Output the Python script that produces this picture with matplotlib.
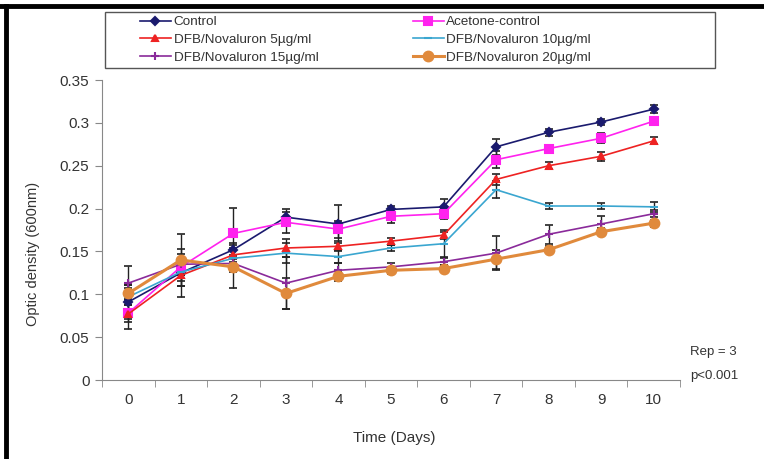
import matplotlib
matplotlib.use("Agg")
import matplotlib.pyplot as plt
from matplotlib.lines import Line2D
from matplotlib.patches import Rectangle
import numpy as np

plt.rcParams['font.family'] = ['Liberation Sans', 'DejaVu Sans']

# dados
days = [0, 1, 2, 3, 4, 5, 6, 7, 8, 9, 10]
control = [0.091, 0.125, 0.152, 0.190, 0.182, 0.199, 0.202, 0.272, 0.289, 0.301, 0.316]
acetone = [0.078, 0.132, 0.171, 0.184, 0.176, 0.191, 0.194, 0.257, 0.270, 0.282, 0.302]
dfb5 = [0.077, 0.122, 0.146, 0.154, 0.156, 0.162, 0.169, 0.234, 0.250, 0.261, 0.279]
dfb10 = [0.097, 0.126, 0.142, 0.148, 0.144, 0.154, 0.159, 0.222, 0.203, 0.203, 0.202]
dfb15 = [0.113, 0.135, 0.136, 0.113, 0.128, 0.132, 0.138, 0.148, 0.170, 0.182, 0.194]
dfb20 = [0.101, 0.140, 0.132, 0.101, 0.121, 0.128, 0.130, 0.141, 0.152, 0.173, 0.183]

# desvios (barras de erro)
err_control = [0.020, 0.028, 0.008, 0.010, 0.022, 0.004, 0.009, 0.009, 0.004, 0.003, 0.005]
err_acetone = [0.010, 0.010, 0.030, 0.012, 0.010, 0.008, 0.006, 0.010, 0.004, 0.006, 0.004]
err_dfb5 = [0.017, 0.012, 0.008, 0.010, 0.006, 0.004, 0.004, 0.006, 0.004, 0.005, 0.004]
err_dfb10 = [0.010, 0.010, 0.010, 0.012, 0.008, 0.004, 0.016, 0.010, 0.003, 0.003, 0.006]
err_dfb15 = [0.020, 0.012, 0.010, 0.030, 0.008, 0.004, 0.004, 0.020, 0.011, 0.009, 0.004]
err_dfb20 = [0.010, 0.030, 0.025, 0.018, 0.006, 0.004, 0.004, 0.011, 0.004, 0.004, 0.004]

labels = ['Control', 'Acetone-control', 'DFB/Novaluron 5\u00b5g/ml',
          'DFB/Novaluron 10\u00b5g/ml', 'DFB/Novaluron 15\u00b5g/ml', 'DFB/Novaluron 20\u00b5g/ml']

fig = plt.figure(figsize=(7.64, 4.59), dpi=100)
ax = fig.add_axes([102/764, 1-380/459, (680-102)/764, 300/459])

series = [
    (control, err_control, '#1a1a6e', 'D', 4, 1.2),
    (acetone, err_acetone, '#ff22ee', 's', 6, 1.2),
    (dfb5, err_dfb5, '#ee2222', '^', 5, 1.2),
    (dfb10, err_dfb10, '#3aa6d0', '_', 6, 1.2),
    (dfb15, err_dfb15, '#8a2a9a', '+', 6, 1.2),
    (dfb20, err_dfb20, '#e08a3c', 'o', 7, 2.2),
]

handles = {}
for (vals, err, col, mk, ms, lw), lab in zip(series, labels):
    ax.errorbar(days, vals, yerr=err, fmt='none', ecolor='#222222',
                elinewidth=1.0, capsize=3, capthick=1.2, zorder=2)
    h, = ax.plot(days, vals, color=col, marker=mk, markersize=ms, lw=lw,
                 markeredgecolor=col, markeredgewidth=1.5, zorder=3, label=lab)
    handles[lab] = h

ax.set_xlim(-0.5, 10.5)
ax.set_ylim(0, 0.35)
ax.set_yticks(np.arange(0, 0.36, 0.05))
ax.set_yticklabels(['0', '0.05', '0.1', '0.15', '0.2', '0.25', '0.3', '0.35'])
ax.set_xticks(days)
ax.set_xticks(np.arange(-0.5, 10.6, 1), minor=True)
ax.tick_params(axis='x', which='major', length=0, pad=9, labelsize=11, colors='#333333')
ax.tick_params(axis='x', which='minor', length=5, direction='out', color='#888888')
ax.tick_params(axis='y', length=5, direction='out', color='#888888', labelsize=11,
               labelcolor='#333333', pad=4)

for s in ['top', 'right']:
    ax.spines[s].set_visible(False)
for s in ['left', 'bottom']:
    ax.spines[s].set_color('#888888')

ax.set_xlabel('Time (Days)', fontsize=11, color='#333333')
ax.xaxis.set_label_coords(0.505, -0.17)
ax.set_ylabel('Optic density (600nm)', fontsize=10.5, color='#333333')
ax.yaxis.set_label_coords(-0.108, 0.42)

fig.text(690/764, 1-352/459, 'Rep = 3', fontsize=9.5, color='#333333', va='center')
fig.text(690/764, 1-376/459, 'p<0.001', fontsize=9.5, color='#333333', va='center')

# caixa da legenda
fig.add_artist(Rectangle((105/764, 1-68/459), 610/764, 56/459, transform=fig.transFigure,
                         facecolor='white', edgecolor='#555555', lw=1.0, zorder=4))

order = [labels[0], labels[2], labels[4], labels[1], labels[3], labels[5]]
leg = fig.legend([handles[l] for l in order], order, ncol=2,
                 loc='upper left', bbox_to_anchor=(140/764, 1-16/459),
                 fontsize=9.7, frameon=False, borderpad=0,
                 labelspacing=0.38, handlelength=2.3, handletextpad=0.2,
                 columnspacing=7.0, borderaxespad=0)
leg.set_zorder(5)
for t in leg.get_texts():
    t.set_color('#333333')

# bordas pretas da figura
fig.add_artist(Line2D([0, 1], [1-6/459, 1-6/459], color='black', lw=3.5, transform=fig.transFigure))
fig.add_artist(Line2D([6/764, 6/764], [0, 1-6/459], color='black', lw=3.5, transform=fig.transFigure))

fig.savefig('out.png', dpi=100)
